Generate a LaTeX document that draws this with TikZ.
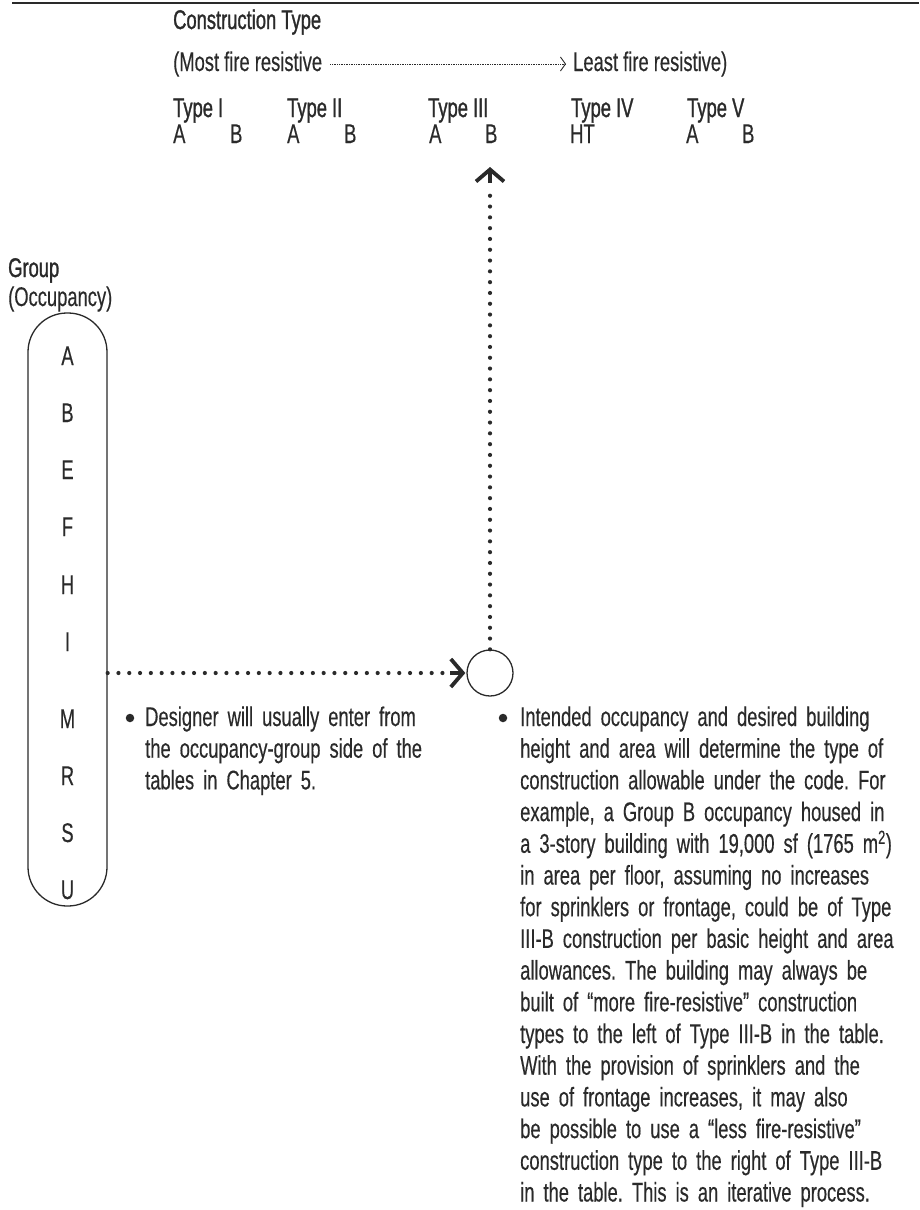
\documentclass[tikz,border=0pt]{standalone}
\usepackage{fontspec}
\setmainfont[FakeStretch=0.68,FakeBold=0.35]{Liberation Sans}
\newfontfamily\hdfont[FakeStretch=0.68,FakeBold=1.1]{Liberation Sans}
\usetikzlibrary{arrows.meta}
\definecolor{ink}{HTML}{2A2A2A}
\frenchspacing
\begin{document}
\begin{tikzpicture}[x=1pt,y=-1pt,
  every node/.style={text=ink,font=\fontsize{27}{32}\selectfont\frenchspacing,inner sep=0pt},
  hd/.style={anchor=base west,font=\fontsize{27}{32}\selectfont\hdfont},
  tx/.style={anchor=base west},
  lt/.style={anchor=base},
  para/.style={anchor=base west,align=left,text width=#1,font=\fontsize{27}{31.7}\selectfont\frenchspacing},
  dots/.style={draw=ink,line width=4.2pt,line cap=round,dash pattern=on 0pt off 10.8pt},
  chev/.style={-{Straight Barb[length=12pt,width=28pt,line width=3.8pt]}},
  capsule/.style={draw=ink,line width=1.3pt,rounded corners=39pt,minimum width=79pt,minimum height=593pt},
  ring/.style={draw=ink,line width=1.3pt,circle,minimum size=46pt},
  bul/.style={fill=ink,circle,minimum size=8.5pt}]
\useasboundingbox (0,0) rectangle (919,1210);
\draw[ink,line width=2pt] (12,3) -- (919,3);
% header
\node[hd] (ct) at (173,29) {Construction Type};
\node[tx] (mfr) at (173,71) {(Most fire resistive};
\node[tx] (lfr) at (573,71) {Least fire resistive)};
\draw[ink,line width=0.7pt,densely dotted,-{Straight Barb[length=5pt,width=14pt,line width=0.9pt]},shorten <=8pt,shorten >=7pt]
  ([yshift=7pt]mfr.base east) -- ([yshift=7pt]lfr.base west);
\node[hd] (t1) at (173,117) {Type I};
\node[hd] (t2) at (287,117) {Type II};
\node[hd] (t3) at (428,117) {Type III};
\node[hd] (t4) at (571,117) {Type IV};
\node[hd] (t5) at (687,117) {Type V};
\node[tx] (a1) at (173,143) {A};
\node[tx] (b1) at (230,143) {B};
\node[tx] (a2) at (287,143) {A};
\node[tx] (b2) at (344,143) {B};
\node[tx] (a3) at (429,143) {A};
\node[tx] (b3) at (485,143) {B};
\node[tx] (ht) at (570,143) {HT};
\node[tx] (a5) at (686,143) {A};
\node[tx] (b5) at (742,143) {B};
% group
\node[hd] (grp) at (8,277) {Group};
\node[tx] (occ) at (8,306) {(Occupancy)};
\node[capsule] (cap) at (67.5,609.5) {};
\foreach \l/\y in {A/365,B/422,E/479,F/536,H/594,I/651,M/728,R/785,S/842,U/899}
  \node[lt] (g\l) at (67.5,\y) {\l};
% circle and connectors
\node[ring] (c) at (490,673) {};
\coordinate (hs) at (cap.east |- c.west);
\draw[dots] (hs) -- ([xshift=-14pt]c.west);
\draw[ink,chev,line width=3.8pt] ([xshift=-16pt]c.west) -- ([xshift=-1pt]c.west);
\draw[dots] (c.north) -- (490,190);
\coordinate (up) at (490,167);
\draw[ink,chev,line width=3.8pt] (490,183) -- (up);
% bullets
\node[bul] (bl1) at (130,718) {};
\node[para=330pt] (p1) at (145,726) {Designer will usually enter from\\the occupancy-group side of the\\tables in Chapter 5.};
\node[bul] (bl2) at (503,718) {};
\node[para=400pt] (p2) at (520,726) {Intended occupancy and desired building\\height and area will determine the type of\\construction allowable under the code. For\\example, a Group B occupancy housed in\\a 3-story building with 19,000 sf (1765 m\textsuperscript{2})\\in area per floor, assuming no increases\\for sprinklers or frontage, could be of Type\\III-B construction per basic height and area\\allowances. The building may always be\\built of “more fire-resistive” construction\\types to the left of Type III-B in the table.\\With the provision of sprinklers and the\\use of frontage increases, it may also\\be possible to use a “less fire-resistive”\\construction type to the right of Type III-B\\in the table. This is an iterative process.};
\end{tikzpicture}
\end{document}
